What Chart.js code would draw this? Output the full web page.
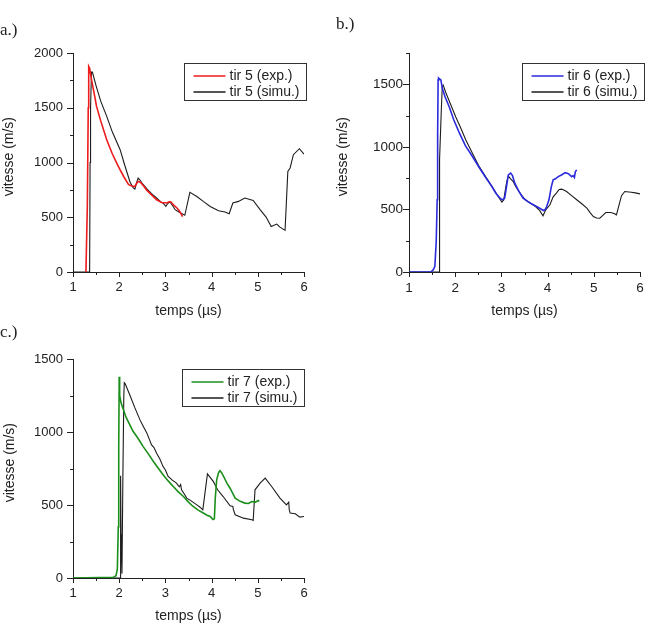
<!DOCTYPE html>
<html><head><meta charset="utf-8">
<script src="https://cdn.jsdelivr.net/npm/chart.js@4.4.1/dist/chart.umd.min.js"></script>
<style>
html,body{margin:0;padding:0;background:#fff;}
#wrap{position:relative;width:658px;height:629px;overflow:hidden;background:#fff;}
.pc{position:absolute;}
.lbl{position:absolute;font-family:"Liberation Serif","DejaVu Serif",serif;font-size:17px;color:#222;line-height:1;}
</style></head><body>
<div id="wrap">
<div class="pc" style="left:0;top:0"><canvas id="ca" width="329" height="320"></canvas></div>
<div class="pc" style="left:329px;top:0"><canvas id="cb" width="329" height="320"></canvas></div>
<div class="pc" style="left:0;top:320px"><canvas id="cc" width="329" height="309"></canvas></div>
<div class="lbl" style="left:0;top:21px">a.)</div>
<div class="lbl" style="left:336px;top:15px">b.)</div>
<div class="lbl" style="left:0;top:323px">c.)</div>
</div>
<script>
// ---------- data ----------
const xTicks = [1, 2, 3, 4, 5, 6];
const yTicksA = [0, 500, 1000, 1500, 2000];
const yTicksB = [0, 500, 1000, 1500];
const yTicksC = [0, 500, 1000, 1500];
const xTitle = 'temps (µs)';
const yTitle = 'vitesse (m/s)';
const labelsA = ['tir 5 (exp.)', 'tir 5 (simu.)'];
const labelsB = ['tir 6 (exp.)', 'tir 6 (simu.)'];
const labelsC = ['tir 7 (exp.)', 'tir 7 (simu.)'];

// tir 5
const tir5ExpT = [1.28,1.31,1.33,1.34,1.36,1.40,1.45,1.51,1.60,1.73,1.85,1.98,2.10,2.20,2.27,2.34,2.38,2.41,2.46,2.52,2.60,2.70,2.81,2.92,3.03,3.08,3.12,3.18,3.25,3.30,3.34,3.37];
const tir5ExpV = [0,600,1500,1877,1860,1760,1650,1512,1380,1208,1080,964,870,800,785,782,810,827,820,790,745,705,660,635,630,642,640,610,585,560,530,505];
const tir5SimT = [1.00,1.36,1.37,1.38,1.40,1.42,1.50,1.60,1.73,1.85,2.02,2.12,2.23,2.30,2.34,2.38,2.41,2.45,2.49,2.60,2.70,2.81,2.90,2.96,3.01,3.05,3.10,3.15,3.21,3.30,3.42,3.53,3.68,3.82,3.97,4.15,4.29,4.38,4.46,4.58,4.72,4.90,5.05,5.18,5.29,5.41,5.48,5.59,5.65,5.70,5.77,5.90,6.00];
const tir5SimV = [0,0,1000,1500,1826,1826,1700,1560,1421,1280,1117,975,827,770,758,820,858,840,815,760,715,676,640,625,599,625,639,610,569,545,518,727,690,645,599,560,548,532,630,645,676,654,569,502,416,438,410,380,919,950,1071,1126,1077];

// tir 6
const tir6ExpT = [1.00,1.47,1.52,1.56,1.59,1.61,1.62,1.63,1.64,1.67,1.69,1.72,1.78,1.87,1.97,2.08,2.22,2.37,2.52,2.66,2.78,2.88,2.97,3.02,3.07,3.11,3.15,3.20,3.24,3.29,3.37,3.47,3.58,3.69,3.80,3.91,3.95,3.98,4.03,4.08,4.12,4.17,4.23,4.30,4.38,4.45,4.52,4.55,4.58,4.60,4.63];
const tir6ExpV = [0,0,15,45,250,577,1100,1533,1550,1540,1535,1470,1400,1320,1215,1120,1010,925,835,755,690,630,590,577,590,680,776,790,770,710,650,590,560,537,515,491,500,523,577,680,736,745,762,775,794,785,762,770,755,800,816];
const tir6SimT = [1.00,1.65,1.655,1.66,1.67,1.70,1.72,1.74,1.80,1.90,2.01,2.12,2.23,2.37,2.52,2.66,2.80,2.92,3.01,3.05,3.10,3.14,3.16,3.21,3.26,3.31,3.42,3.52,3.63,3.74,3.83,3.90,3.96,4.05,4.12,4.19,4.25,4.30,4.35,4.41,4.52,4.63,4.74,4.85,4.92,4.99,5.06,5.13,5.19,5.26,5.37,5.44,5.49,5.55,5.60,5.67,5.81,5.90,6.00];
const tir6SimV = [0,0,500,700,900,1300,1480,1494,1430,1340,1241,1150,1055,950,842,760,683,610,558,575,690,760,762,740,720,683,620,577,550,523,490,449,497,537,600,630,660,662,655,643,610,577,545,510,475,443,432,430,450,475,475,468,457,540,610,643,637,632,624];

// tir 7
const tir7ExpT = [1.00,1.87,1.93,1.96,1.98,1.99,2.00,2.01,2.04,2.08,2.15,2.23,2.30,2.38,2.45,2.52,2.63,2.74,2.85,2.95,3.06,3.17,3.28,3.39,3.50,3.60,3.71,3.82,3.90,3.97,4.03,4.06,4.08,4.11,4.15,4.18,4.22,4.27,4.33,4.40,4.51,4.62,4.72,4.80,4.87,4.95,5.01,5.03];
const tir7ExpV = [0,4,15,60,350,900,1379,1250,1200,1163,1100,1049,1005,969,935,900,850,798,750,707,665,627,590,558,520,490,465,445,430,421,400,405,550,672,720,736,720,690,650,615,547,525,513,510,524,520,531,525];
const tir7SimT = [1.00,2.02,2.03,2.04,2.06,2.08,2.10,2.11,2.13,2.23,2.34,2.45,2.52,2.60,2.70,2.75,2.81,2.88,2.95,3.00,3.06,3.15,3.24,3.30,3.33,3.35,3.42,3.46,3.55,3.68,3.75,3.81,3.91,4.04,4.13,4.25,4.40,4.46,4.47,4.51,4.69,4.87,4.90,4.94,5.05,5.16,5.30,5.48,5.62,5.67,5.68,5.70,5.81,5.91,6.00];
const tir7SimV = [0,0,700,300,30,700,1250,1338,1330,1254,1165,1083,1040,992,912,895,855,815,763,740,695,670,650,625,640,604,570,547,530,501,485,467,713,660,604,558,494,490,470,433,410,399,395,604,650,684,627,547,501,520,470,445,440,417,421];

// ---------- helpers ----------
const FONT = "'Liberation Sans', Arial, sans-serif";
const INK = '#222';
const pts = (T, V) => T.map((t, i) => ({x: t, y: V[i]}));

const tickPlugin = {
  id: 'axisTicks',
  afterDraw(chart) {
    const ctx = chart.ctx;
    ctx.save();
    ctx.strokeStyle = INK;
    ctx.lineWidth = 1;
    ctx.beginPath();
    const xs = chart.scales.x, ys = chart.scales.y;
    const xv = xs.ticks.map(t => t.value);
    const xstep = xv[1] - xv[0];
    xv.forEach(v => {
      const p = Math.round(xs.getPixelForValue(v)) + 0.5;
      ctx.moveTo(p, xs.top); ctx.lineTo(p, xs.top + 5);
      const m = v + xstep / 2;
      if (m <= xs.max + 1e-9) {
        const q = Math.round(xs.getPixelForValue(m)) + 0.5;
        ctx.moveTo(q, xs.top); ctx.lineTo(q, xs.top + 3);
      }
    });
    const yv = ys.ticks.map(t => t.value);
    const ystep = yv[1] - yv[0];
    yv.forEach(v => {
      const p = Math.round(ys.getPixelForValue(v)) + 0.5;
      ctx.moveTo(ys.right, p); ctx.lineTo(ys.right - 6, p);
      const m = v + ystep / 2;
      if (m <= ys.max + 1e-9) {
        const q = Math.round(ys.getPixelForValue(m)) + 0.5;
        ctx.moveTo(ys.right, q); ctx.lineTo(ys.right - 3, q);
      }
    });
    ctx.stroke();
    ctx.restore();
  }
};

const boxLegend = {
  id: 'boxLegend',
  afterDraw(chart, args, opts) {
    const ctx = chart.ctx, ca = chart.chartArea;
    const ds = chart.data.datasets;
    ctx.save();
    ctx.font = '14px ' + FONT;
    const tw = Math.max(...ds.map(d => ctx.measureText(d.label).width));
    const padL = 9, lineLen = 32, gap = 4, padR = 7, rowH = 16.7, firstRow = 12;
    const w = Math.round(padL + lineLen + gap + tw + padR);
    const h = 37;
    const left = Math.round(ca.right + opts.dx - w) + 0.5;
    const top = Math.round(ca.top + opts.dy) + 0.5;
    ctx.fillStyle = '#fff';
    ctx.fillRect(left, top, w, h);
    ctx.strokeStyle = '#333';
    ctx.lineWidth = 1;
    ctx.strokeRect(left, top, w, h);
    ds.forEach((d, i) => {
      const cy = Math.round(top + firstRow + i * rowH);
      ctx.strokeStyle = d.borderColor;
      ctx.lineWidth = 1.5;
      ctx.beginPath();
      ctx.moveTo(left + padL, cy); ctx.lineTo(left + padL + lineLen, cy);
      ctx.stroke();
      ctx.fillStyle = INK;
      ctx.textBaseline = 'middle';
      ctx.textAlign = 'left';
      ctx.fillText(d.label, left + padL + lineLen + gap, cy);
    });
    ctx.restore();
  }
};

function makeChart(id, cfg) {
  return new Chart(document.getElementById(id), {
    type: 'line',
    data: {
      datasets: [
        {label: cfg.labels[0], data: pts(cfg.expT, cfg.expV), borderColor: cfg.color, borderWidth: 1.6},
        {label: cfg.labels[1], data: pts(cfg.simT, cfg.simV), borderColor: '#1c1c1c', borderWidth: 1.1}
      ]
    },
    options: {
      responsive: false,
      animation: false,
      devicePixelRatio: 1,
      elements: {point: {radius: 0, hoverRadius: 0}, line: {tension: 0, fill: false}},
      layout: {padding: {left: 0, top: cfg.padTop, right: cfg.padRight, bottom: 0}},
      plugins: {
        legend: {display: false},
        tooltip: {enabled: false},
        boxLegend: {dx: cfg.legDx, dy: 10}
      },
      scales: {
        x: {
          type: 'linear', min: 1, max: 6,
          afterBuildTicks: s => { s.ticks = xTicks.map(v => ({value: v})); },
          afterFit: s => { s.height = cfg.xH; },
          grid: {display: false, drawTicks: false},
          border: {display: true, color: INK, width: 1},
          ticks: {padding: 8, color: INK, font: {family: FONT, size: cfg.tickSize}, maxRotation: 0, autoSkip: false,
                  callback: v => String(v)},
          title: {display: true, text: xTitle, color: INK, font: {family: FONT, size: 14}, padding: {top: 0, bottom: cfg.xTitlePad}}
        },
        y: {
          type: 'linear', min: 0, max: cfg.yMax,
          afterBuildTicks: s => { s.ticks = cfg.yTicks.map(v => ({value: v})); },
          afterFit: s => { s.width = cfg.yW; },
          grid: {display: false, drawTicks: false},
          border: {display: true, color: INK, width: 1},
          ticks: {padding: cfg.yLabPad, color: INK, font: {family: FONT, size: cfg.tickSize}, autoSkip: false,
                  callback: v => String(v)},
          title: {display: true, text: '   ' + yTitle, color: INK, font: {family: FONT, size: 14}, padding: {top: cfg.yTitlePad, bottom: 0}}
        }
      }
    },
    plugins: [tickPlugin, boxLegend]
  });
}

makeChart('ca', {labels: labelsA, expT: tir5ExpT, expV: tir5ExpV, simT: tir5SimT, simV: tir5SimV,
  color: '#ee1c1c', yMax: 2000, yTicks: yTicksA, padTop: 53, padRight: 25, xH: 48, yW: 73,
  legDx: 2, tickSize: 13, yLabPad: 10, xTitlePad: 0, yTitlePad: 1});
makeChart('cb', {labels: labelsB, expT: tir6ExpT, expV: tir6ExpV, simT: tir6SimT, simV: tir6SimV,
  color: '#2b2bde', yMax: 1750, yTicks: yTicksB, padTop: 53, padRight: 18, xH: 48, yW: 80,
  legDx: 4, tickSize: 13.5, yLabPad: 6, xTitlePad: 0, yTitlePad: 5.5});
makeChart('cc', {labels: labelsC, expT: tir7ExpT, expV: tir7ExpV, simT: tir7SimT, simV: tir7SimV,
  color: '#1b8f1b', yMax: 1500, yTicks: yTicksC, padTop: 39, padRight: 25, xH: 51, yW: 73,
  legDx: 0, tickSize: 13, yLabPad: 10, xTitlePad: 4, yTitlePad: 2});
</script>
</body></html>
